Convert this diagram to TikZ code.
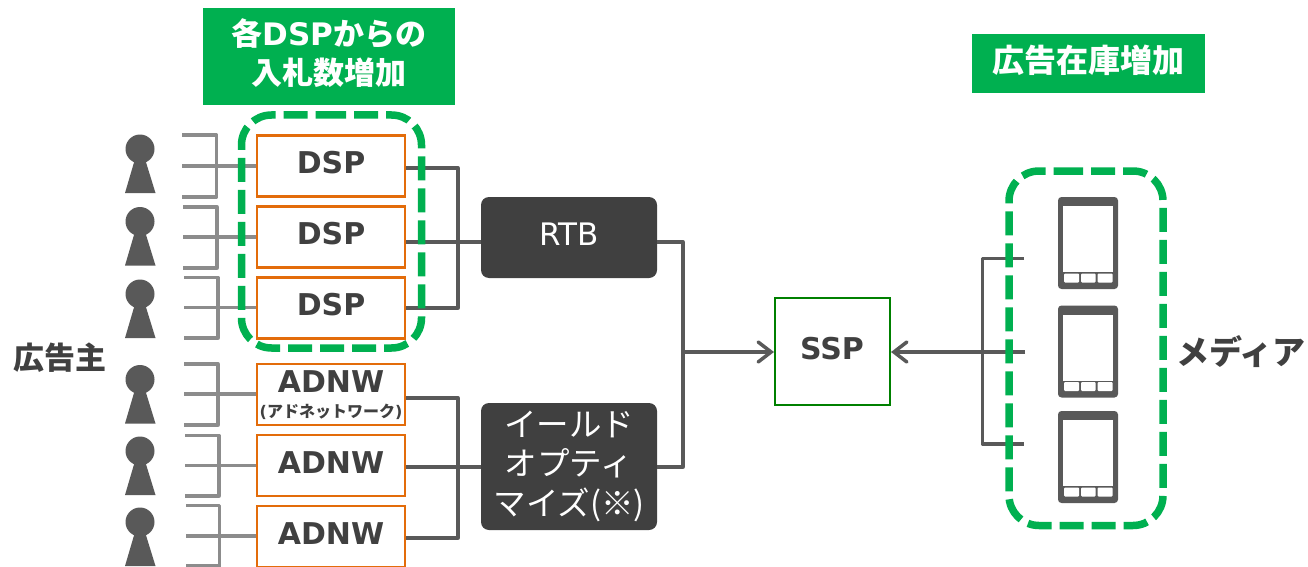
\documentclass[tikz,border=0pt]{standalone}
\usepackage{fontspec}
\usetikzlibrary{arrows.meta}
\setmainfont{DejaVu Sans}
\newfontfamily\jp{Noto Sans CJK JP}
\definecolor{gbar}{HTML}{00B050}
\definecolor{orng}{HTML}{E36C0A}
\definecolor{dk}{HTML}{404040}
\definecolor{ln}{HTML}{595959}
\definecolor{lg}{HTML}{8C8C8C}
\definecolor{ssp}{HTML}{008000}
\tikzset{
  unitbox/.style={draw=orng,line width=2.5pt,fill=white,minimum width=148pt,minimum height=61pt,inner sep=0pt},
  darkbox/.style={fill=dk,rounded corners=8pt,minimum width=176pt,inner sep=0pt,text=white,align=center},
  hdr/.style={fill=gbar,inner sep=0pt},
  hdrtext/.style={text=white,align=center,inner sep=0pt},
  conn/.style={draw=ln,line width=3.3pt,line join=round},
  lconn/.style={draw=lg,line width=3.3pt,line join=round},
  dashgrp/.style={draw=gbar,line width=7.5pt,rounded corners=30pt,dash pattern=on 24pt off 8pt},
  label/.style={inner sep=0pt,text=dk},
  boxtext/.style={text=dk,font=\fontsize{30}{34}\selectfont\bfseries,inner sep=0pt},
  barb/.style={-{Straight Barb[length=13pt,width=20pt,line width=3.5pt,line cap=round]}},
}
\begin{document}
\begin{tikzpicture}[x=1pt,y=-1pt]
\useasboundingbox (0,0) rectangle (1308,567);
% headers
\node[hdr,minimum width=252pt,minimum height=97pt] (h1) at (329,56.5) {};
\node[hdrtext,font=\fontsize{31}{39}\selectfont\bfseries] (h1t) at (329,53)
  {{\jp 各}DSP{\jp からの}\\{\jp 入札数増加}};
\node[hdr,minimum width=233pt,minimum height=59pt] (h2) at (1088.5,63.5) {};
\node[hdrtext,font=\fontsize{32}{34}\selectfont\jp\bfseries] (h2t) at (1088,60)
  {広告在庫増加};
% people
\foreach \n/\y in {1/149,2/221.5,3/294,4/379.5,5/451,6/522}{
  \fill[ln] (140,\y) circle (14.5pt);
  \fill[ln] (135,\y+10) -- (145,\y+10) -- (155.5,\y+44) -- (125,\y+44) -- cycle;
}
% advertiser brackets
\foreach \n/\xa/\xb/\ya/\ym/\yb in {1/182/216.5/135/166/197,2/183/217/207/237/268,3/184/218/277.5/307.5/338,4/184/218/364/394/425,5/185/219/435.5/465.5/496,6/186/219.5/505.5/536/566}{
  \draw[lconn] (\xa,\ya) -- (\xb,\ya) -- (\xb,\yb) -- (\xa,\yb);
  \coordinate (bm\n) at (\xa,\ym);
}
% boxes
\node[unitbox] (d1) at (331,166) {};
\node[unitbox] (d2) at (331,237) {};
\node[unitbox] (d3) at (331,308) {};
\node[unitbox] (a1) at (331,394.5) {};
\node[unitbox] (a2) at (331,465.5) {};
\node[unitbox] (a3) at (331,536.5) {};
\draw[lconn] (bm1) -- (bm1-|d1.west);
\draw[lconn] (bm2) -- (bm2-|d2.west);
\draw[lconn] (bm3) -- (bm3-|d3.west);
\draw[lconn] (bm4) -- (bm4-|a1.west);
\draw[lconn] (bm5) -- (bm5-|a2.west);
\draw[lconn] (bm6) -- (bm6-|a3.west);
% dark boxes
\node[darkbox,minimum height=81pt] (rtb) at (569,237.5) {};
\node[text=white,inner sep=0pt,font=\fontsize{31}{34}\selectfont] (rtbt) at (569,234.5) {RTB};
\node[darkbox,minimum height=127pt] (yo) at (569,466.5) {};
\node[text=white,inner sep=0pt,align=center,font=\fontsize{32.5}{39.5}\selectfont\jp] (yot) at (569,466)
  {イールド\\オプティ\\マイズ(※)};
\node[draw=ssp,line width=2pt,fill=white,minimum width=115pt,minimum height=107pt,inner sep=0pt] (ssp) at (832.5,351.5) {};
\node[boxtext] (sspt) at (832,349) {SSP};
% collectors
\coordinate (dt) at (458,168);
\coordinate (dj) at (458,242);
\coordinate (db) at (458,308);
\coordinate (at) at (458,398);
\coordinate (aj) at (458,467);
\coordinate (ab) at (458,538);
\draw[conn] (dt-|d1.east) -- (dt) -- (db) -- (db-|d3.east);
\draw[conn] (dj-|d2.east) -- (dj-|rtb.west);
\draw[conn] (at-|a1.east) -- (at) -- (ab) -- (ab-|a3.east);
\draw[conn] (aj-|a2.east) -- (aj-|yo.west);
\coordinate (mj) at (683,352);
\draw[conn] (dj-|rtb.east) -- (dj-|mj) -- (aj-|mj) -- (aj-|yo.east);
\draw[conn,barb] (mj) -- (mj-|ssp.west);
% media connectors
\coordinate (m1) at (1024,258.5);
\coordinate (m2) at (1025,352);
\coordinate (m3) at (1024,444);
\coordinate (mx) at (982.5,352);
\draw[conn] (m1) -- (m1-|mx) -- (m3-|mx) -- (m3);
\draw[conn,barb] (m2) -- (m2-|ssp.east);
% phones
\foreach \n/\y in {1/197,2/305.5,3/411}{
  \node[fill=ln,rounded corners=3.5pt,minimum width=60pt,minimum height=92pt,inner sep=0pt] (p\n) at (1088,\y+46) {};
  \fill[white] (1062.7,\y+9) rectangle (1112.7,\y+75);
  \fill[white,rounded corners=1pt] (1064,\y+76.5) rectangle (1079,\y+85.5);
  \fill[white,rounded corners=1pt] (1081,\y+76.5) rectangle (1095.7,\y+85.5);
  \fill[white,rounded corners=1pt] (1097.7,\y+76.5) rectangle (1112.7,\y+85.5);
}
% dashed groups
\draw[dashgrp] (322,115) -- (421.5,115) -- (421.5,348) -- (241.5,348) -- (241.5,115) -- (322,115);
\draw[dashgrp] (1059,171) -- (1163,171) -- (1163,525.5) -- (1009,525.5) -- (1009,171) -- (1059,171);
% box labels
\node[boxtext] (t1) at (331,163) {DSP};
\node[boxtext] (t2) at (331,234) {DSP};
\node[boxtext] (t3) at (331,305) {DSP};
\node[boxtext] (t4) at (331,382) {ADNW};
\node[boxtext,font=\fontsize{16}{18}\selectfont\bfseries] (t5) at (331,412) {({\jp アドネットワーク})};
\node[boxtext] (t6) at (331,463) {ADNW};
\node[boxtext] (t7) at (331,534) {ADNW};
% outer labels
\node[label,font=\fontsize{31}{34}\selectfont\jp\bfseries] (adv) at (60,358) {広告主};
\node[label,font=\fontsize{33}{36}\selectfont\jp\bfseries] (med) at (1241,352) {メディア};
\end{tikzpicture}
\end{document}
